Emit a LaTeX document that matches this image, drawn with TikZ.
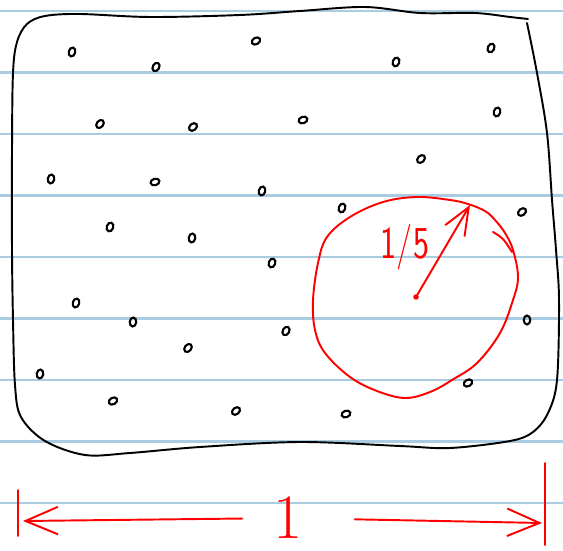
\documentclass[tikz,border=0pt]{standalone}
\usepackage{tikz}
\usetikzlibrary{arrows.meta, calc}

\definecolor{paperline}{RGB}{170,204,226}

\begin{document}
\begin{tikzpicture}[
  x=0.02cm, y=-0.02cm,
  every node/.style={font=\sffamily},
  ruling/.style={draw=paperline, line width=1.3pt},
  pen/.style={draw=black, line width=1.1pt, line cap=round, line join=round},
  dot/.style={draw=black, line width=1.2pt},
  redpen/.style={draw=red, line width=1.1pt, line cap=round, line join=round},
  barb/.style={-{Straight Barb[length=6.5mm,width=5.5mm]}},
  smallbarb/.style={-{Straight Barb[length=5.5mm,width=4.5mm]}},
]

\useasboundingbox (0,0) rectangle (563,550);
\fill[white] (0,0) rectangle (563,550);

% ruled paper
\foreach \y in {11,72.5,134,195.5,257,318.5,380,441.5,503}
  \draw[ruling] (0,\y) -- (563,\y);

% the square
\draw[pen] plot[smooth, tension=0.55] coordinates {
  (528,19) (510,17) (475,13) (420,13) (365,7) (300,11) (240,15) (150,17)
  (80,14) (45,16) (27,24) (17,42) (13,73) (12,150) (12,250) (13,320)
  (15,385) (21,417) (45,441) (85,455) (130,453) (200,447) (300,442)
  (400,446) (450,448) (510,441) (533,432) (548,413) (557,380) (559,300)
  (556,250) (552,200) (547,133) (537,73) (527,23)};

% random points
\foreach \x/\y/\a in {
  72/52/-15, 156/67/-30, 256/41/-60, 396/62/-20, 491/48/-25,
  100/124/-40, 193/127/-50, 303/120/-70, 497/112/-15,
  51/179/-10, 155/182/-75, 262/191/-15, 421/159/-45,
  110/227/-20, 192/238/-10, 342/208/-20, 522/212/-50,
  272/263/-20,
  76/303/-15, 133/322/-5, 286/331/-30, 188/348/-40, 527/320/0,
  40/374/-10, 113/401/-60, 236/411/-50, 346/414/-70, 468/383/-60}
  \draw[dot, rotate around={\a:(\x,\y)}] (\x,\y) ellipse [x radius=0.065cm, y radius=0.09cm];

% circle of radius 1/5
\draw[redpen] plot[smooth cycle, tension=0.6] coordinates {
  (513,250) (505,233) (495,220) (485,211) (468,204) (450,200) (417,197)
  (383,202) (350,217) (327,237) (318,263) (313,300) (315,330) (325,353)
  (350,377) (377,391) (405,398) (430,392) (452,380) (477,363) (500,333)
  (513,300) (518,277)};
\draw[redpen] (493,232) .. controls (503,238) .. (512,252);

\coordinate (centre) at (416,297);
\coordinate (tip) at (470,205);
\fill[red] (centre) circle [radius=0.055cm];
\draw[redpen, smallbarb] (centre) -- (tip);
\node[text=red, font=\sffamily\fontsize{26}{26}\selectfont, xscale=0.75, inner sep=0pt]
  (fifth) at (405,247) {1/5};

% unit length
\node[text=red, font=\fontsize{36}{36}\selectfont, inner sep=0pt] (one) at (288,518) {1};
\coordinate (ltop) at (18,490);
\coordinate (lbot) at (18,536);
\coordinate (rtop) at (545,463);
\coordinate (rbot) at (545,545);
\coordinate (lend) at (23,521);
\coordinate (rend) at (542,523);

\draw[redpen] (ltop) -- (lbot);
\draw[redpen] (rtop) -- (rbot);
\draw[redpen, barb, shorten <=0.62cm] (one) -- (lend);
\draw[redpen, barb, shorten <=1.04cm] (one) -- (rend);

\end{tikzpicture}
\end{document}
